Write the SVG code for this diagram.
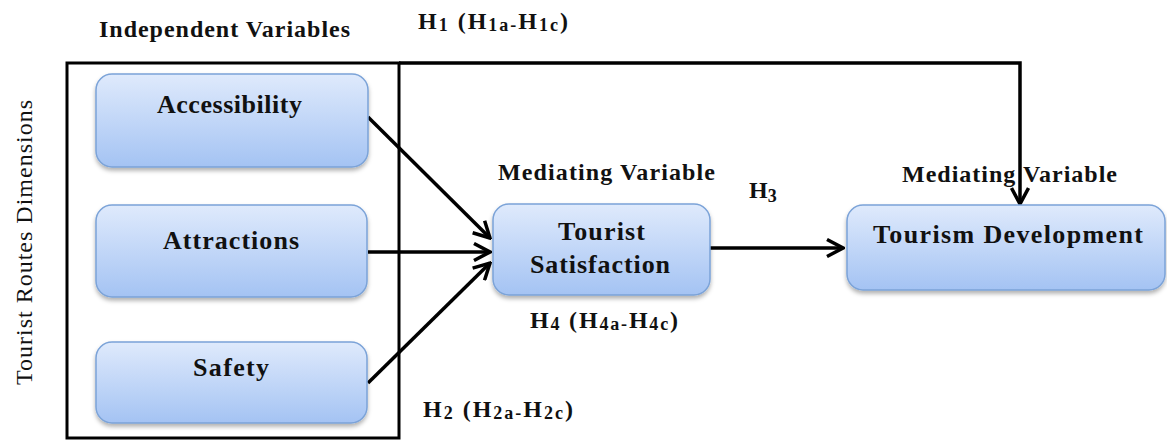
<svg xmlns="http://www.w3.org/2000/svg" width="1167" height="441" viewBox="0 0 1167 441">
<style>
.hd{font-family:"Liberation Serif","Times New Roman",serif;font-weight:bold;font-size:24px;fill:#111}
.lb{font-family:"Liberation Serif","Times New Roman",serif;font-weight:bold;font-size:26px;fill:#111}
.sub{font-size:18px}
.vt{font-family:"Liberation Serif","Times New Roman",serif;font-size:24px;fill:#111}
.node{fill:url(#g);stroke:#7ba3d8;stroke-width:1.5;filter:url(#sh)}
.con{fill:none;stroke:#000;stroke-width:3.5;marker-end:url(#ar)}
</style>
<defs>
<linearGradient id="g" x1="0" y1="0" x2="0" y2="1">
<stop offset="0" stop-color="#dfeafc"/>
<stop offset="1" stop-color="#a4c3f3"/>
</linearGradient>
<filter id="sh" x="-10%" y="-10%" width="120%" height="130%">
<feDropShadow dx="0" dy="3" stdDeviation="2" flood-color="#000" flood-opacity="0.3"/>
</filter>
<marker id="ar" viewBox="0 0 20 20" refX="18" refY="10" markerWidth="20" markerHeight="20" markerUnits="userSpaceOnUse" orient="auto">
<path d="M2,1.5 L18,10 L2,18.5" fill="none" stroke="#000" stroke-width="3.5"/>
</marker>
</defs>

<text class="hd" x="99" y="37" textLength="251" lengthAdjust="spacing">Independent Variables</text>
<text class="hd" x="418" y="29" textLength="150" lengthAdjust="spacing">H<tspan class="sub" dy="2">1</tspan><tspan dy="-2"> (H</tspan><tspan class="sub" dy="2">1a-</tspan><tspan dy="-2">H</tspan><tspan class="sub" dy="2">1c</tspan><tspan dy="-2">)</tspan></text>
<text class="vt" transform="rotate(-90)" x="-385" y="32" textLength="285" lengthAdjust="spacing">Tourist Routes Dimensions</text>

<g id="frame">
<rect x="67" y="63" width="332" height="375" fill="none" stroke="#000" stroke-width="3"/>
</g>

<g id="connectors">
<path class="con" d="M399,63 H1020 V204"/>
<path class="con" d="M368,117 L490,238"/>
<path class="con" d="M368,252 L490,252"/>
<path class="con" d="M368,383 L490,263"/>
<path class="con" d="M710,248 L843,248"/>
</g>

<g id="accessibility">
<rect class="node" x="96" y="74" width="272" height="93" rx="16"/>
<text class="lb" x="157" y="113" textLength="145" lengthAdjust="spacing">Accessibility</text>
</g>
<g id="attractions">
<rect class="node" x="96" y="205" width="271" height="92" rx="16"/>
<text class="lb" x="163" y="249" textLength="136" lengthAdjust="spacing">Attractions</text>
</g>
<g id="safety">
<rect class="node" x="96" y="342" width="271" height="81" rx="16"/>
<text class="lb" x="193" y="376" textLength="76" lengthAdjust="spacing">Safety</text>
</g>
<g id="tourist-satisfaction">
<text class="hd" x="498" y="180" textLength="217" lengthAdjust="spacing">Mediating Variable</text>
<rect class="node" x="493" y="204" width="217" height="91" rx="16"/>
<text class="lb" x="558" y="240" textLength="87" lengthAdjust="spacing">Tourist</text>
<text class="lb" x="530" y="273" textLength="140" lengthAdjust="spacing">Satisfaction</text>
</g>
<g id="tourism-development">
<text class="hd" x="902" y="182" textLength="215" lengthAdjust="spacing">Mediating Variable</text>
<rect class="node" x="847" y="205" width="318" height="85" rx="16"/>
<text class="lb" x="873" y="243" textLength="270" lengthAdjust="spacing">Tourism Development</text>
</g>

<g id="labels">
<text class="hd" x="749" y="198">H<tspan class="sub" dy="4">3</tspan></text>
<text class="hd" x="530" y="328" textLength="148" lengthAdjust="spacing">H<tspan class="sub" dy="2">4</tspan><tspan dy="-2"> (H</tspan><tspan class="sub" dy="2">4a-</tspan><tspan dy="-2">H</tspan><tspan class="sub" dy="2">4c</tspan><tspan dy="-2">)</tspan></text>
<text class="hd" x="423" y="417" textLength="150" lengthAdjust="spacing">H<tspan class="sub" dy="2">2</tspan><tspan dy="-2"> (H</tspan><tspan class="sub" dy="2">2a-</tspan><tspan dy="-2">H</tspan><tspan class="sub" dy="2">2c</tspan><tspan dy="-2">)</tspan></text>
</g>
</svg>
